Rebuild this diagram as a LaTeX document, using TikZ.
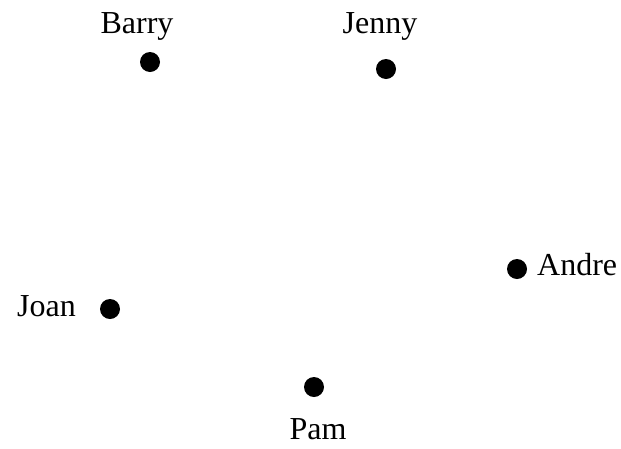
\documentclass[tikz,border=0pt]{standalone}
\usepackage{fontspec}
\setmainfont{Liberation Serif}
\usepackage{tikz}

\begin{document}
\begin{tikzpicture}[x=1pt, y=-1pt,
    person/.style={circle, fill=black, inner sep=0pt, minimum size=20pt},
    personname/.style={inner sep=0pt, anchor=base, font=\fontsize{32}{38}\selectfont}]
    \useasboundingbox (0,0) rectangle (621,448);
    % people
    \node[person] (barry) at (150,62) {};
    \node[person] (jenny) at (386,69) {};
    \node[person] (andre) at (517,269) {};
    \node[person] (joan) at (110,309) {};
    \node[person] (pam) at (314,387) {};
    % names
    \node[personname] (barrylab) at (137,33) {Barry};
    \node[personname] (jennylab) at (380,33) {Jenny};
    \node[personname, anchor=base west] (andrelab) at (537,275) {Andre};
    \node[personname] (joanlab) at (46.5,316) {Joan};
    \node[personname] (pamlab) at (318,439) {Pam};
\end{tikzpicture}
\end{document}
